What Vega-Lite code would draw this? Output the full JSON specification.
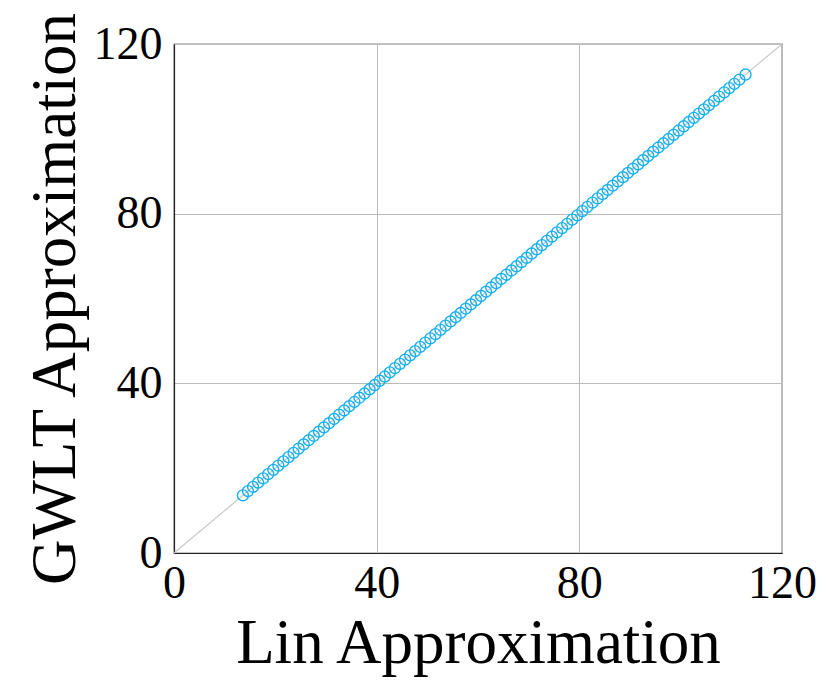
{
  "$schema": "https://vega.github.io/schema/vega-lite/v6.json",
  "autosize": "none",
  "width": 608,
  "height": 509,
  "padding": {"left": 174, "top": 44, "right": 46, "bottom": 127},
  "background": "white",
  "config": {
    "view": {"stroke": "#222222", "strokeWidth": 1.2},
    "font": "Liberation Serif",
    "axis": {
      "labelFont": "Liberation Serif",
      "titleFont": "Liberation Serif",
      "labelFontSize": 46,
      "titleFontSize": 63,
      "titleFontWeight": "normal",
      "labelColor": "#000000",
      "titleColor": "#000000",
      "gridColor": "#bbbbbb",
      "gridWidth": 1,
      "domainColor": "#222222",
      "domainWidth": 1.2,
      "ticks": false,
      "labelFlush": false,
      "labelOverlap": false,
      "labelBound": false,
      "labelPadding": 8
    }
  },
  "datasets": {
    "pts": [
      {"lin": 13.6, "gwlt": 13.6}, {"lin": 14.6, "gwlt": 14.6}, {"lin": 15.6, "gwlt": 15.6}, {"lin": 16.6, "gwlt": 16.6}, {"lin": 17.6, "gwlt": 17.6},
      {"lin": 18.6, "gwlt": 18.6}, {"lin": 19.6, "gwlt": 19.6}, {"lin": 20.6, "gwlt": 20.6}, {"lin": 21.6, "gwlt": 21.6}, {"lin": 22.6, "gwlt": 22.6},
      {"lin": 23.6, "gwlt": 23.6}, {"lin": 24.6, "gwlt": 24.6}, {"lin": 25.6, "gwlt": 25.6}, {"lin": 26.6, "gwlt": 26.6}, {"lin": 27.6, "gwlt": 27.6},
      {"lin": 28.6, "gwlt": 28.6}, {"lin": 29.6, "gwlt": 29.6}, {"lin": 30.6, "gwlt": 30.6}, {"lin": 31.6, "gwlt": 31.6}, {"lin": 32.6, "gwlt": 32.6},
      {"lin": 33.6, "gwlt": 33.6}, {"lin": 34.6, "gwlt": 34.6}, {"lin": 35.6, "gwlt": 35.6}, {"lin": 36.6, "gwlt": 36.6}, {"lin": 37.6, "gwlt": 37.6},
      {"lin": 38.6, "gwlt": 38.6}, {"lin": 39.6, "gwlt": 39.6}, {"lin": 40.6, "gwlt": 40.6}, {"lin": 41.6, "gwlt": 41.6}, {"lin": 42.6, "gwlt": 42.6},
      {"lin": 43.6, "gwlt": 43.6}, {"lin": 44.6, "gwlt": 44.6}, {"lin": 45.6, "gwlt": 45.6}, {"lin": 46.6, "gwlt": 46.6}, {"lin": 47.6, "gwlt": 47.6},
      {"lin": 48.6, "gwlt": 48.6}, {"lin": 49.6, "gwlt": 49.6}, {"lin": 50.6, "gwlt": 50.6}, {"lin": 51.6, "gwlt": 51.6}, {"lin": 52.6, "gwlt": 52.6},
      {"lin": 53.6, "gwlt": 53.6}, {"lin": 54.6, "gwlt": 54.6}, {"lin": 55.6, "gwlt": 55.6}, {"lin": 56.6, "gwlt": 56.6}, {"lin": 57.6, "gwlt": 57.6},
      {"lin": 58.6, "gwlt": 58.6}, {"lin": 59.6, "gwlt": 59.6}, {"lin": 60.6, "gwlt": 60.6}, {"lin": 61.6, "gwlt": 61.6}, {"lin": 62.6, "gwlt": 62.6},
      {"lin": 63.6, "gwlt": 63.6}, {"lin": 64.6, "gwlt": 64.6}, {"lin": 65.6, "gwlt": 65.6}, {"lin": 66.6, "gwlt": 66.6}, {"lin": 67.6, "gwlt": 67.6},
      {"lin": 68.6, "gwlt": 68.6}, {"lin": 69.6, "gwlt": 69.6}, {"lin": 70.6, "gwlt": 70.6}, {"lin": 71.6, "gwlt": 71.6}, {"lin": 72.6, "gwlt": 72.6},
      {"lin": 73.6, "gwlt": 73.6}, {"lin": 74.6, "gwlt": 74.6}, {"lin": 75.6, "gwlt": 75.6}, {"lin": 76.6, "gwlt": 76.6}, {"lin": 77.6, "gwlt": 77.6},
      {"lin": 78.6, "gwlt": 78.6}, {"lin": 79.6, "gwlt": 79.6}, {"lin": 80.6, "gwlt": 80.6}, {"lin": 81.6, "gwlt": 81.6}, {"lin": 82.6, "gwlt": 82.6},
      {"lin": 83.6, "gwlt": 83.6}, {"lin": 84.6, "gwlt": 84.6}, {"lin": 85.6, "gwlt": 85.6}, {"lin": 86.6, "gwlt": 86.6}, {"lin": 87.6, "gwlt": 87.6},
      {"lin": 88.6, "gwlt": 88.6}, {"lin": 89.6, "gwlt": 89.6}, {"lin": 90.6, "gwlt": 90.6}, {"lin": 91.6, "gwlt": 91.6}, {"lin": 92.6, "gwlt": 92.6},
      {"lin": 93.6, "gwlt": 93.6}, {"lin": 94.6, "gwlt": 94.6}, {"lin": 95.6, "gwlt": 95.6}, {"lin": 96.6, "gwlt": 96.6}, {"lin": 97.6, "gwlt": 97.6},
      {"lin": 98.6, "gwlt": 98.6}, {"lin": 99.6, "gwlt": 99.6}, {"lin": 100.6, "gwlt": 100.6}, {"lin": 101.6, "gwlt": 101.6}, {"lin": 102.6, "gwlt": 102.6},
      {"lin": 103.6, "gwlt": 103.6}, {"lin": 104.6, "gwlt": 104.6}, {"lin": 105.6, "gwlt": 105.6}, {"lin": 106.6, "gwlt": 106.6}, {"lin": 107.6, "gwlt": 107.6},
      {"lin": 108.6, "gwlt": 108.6}, {"lin": 109.6, "gwlt": 109.6}, {"lin": 110.6, "gwlt": 110.6}, {"lin": 111.6, "gwlt": 111.6}, {"lin": 112.8, "gwlt": 112.8}
    ],
    "diag": [{"lin": 0, "gwlt": 0}, {"lin": 120, "gwlt": 120}]
  },
  "layer": [
    {
      "data": {"name": "diag"},
      "mark": {"type": "line", "color": "#c8c8c8", "strokeWidth": 1.2},
      "encoding": {
        "x": {"field": "lin", "type": "quantitative", "scale": {"domain": [0, 120], "nice": false},
          "axis": {"values": [0, 40, 80, 120], "title": "Lin Approximation", "titlePadding": 6, "labelPadding": 8}},
        "y": {"field": "gwlt", "type": "quantitative", "scale": {"domain": [0, 120], "nice": false},
          "axis": {"values": [0, 40, 80, 120], "title": "GWLT Approximation", "titlePadding": 6, "labelPadding": 12}}
      }
    },
    {
      "data": {"name": "pts"},
      "mark": {"type": "point", "shape": "circle", "filled": false, "color": "#19b0ee", "strokeWidth": 1.4, "size": 120, "opacity": 1},
      "encoding": {
        "x": {"field": "lin", "type": "quantitative"},
        "y": {"field": "gwlt", "type": "quantitative"}
      }
    }
  ]
}
